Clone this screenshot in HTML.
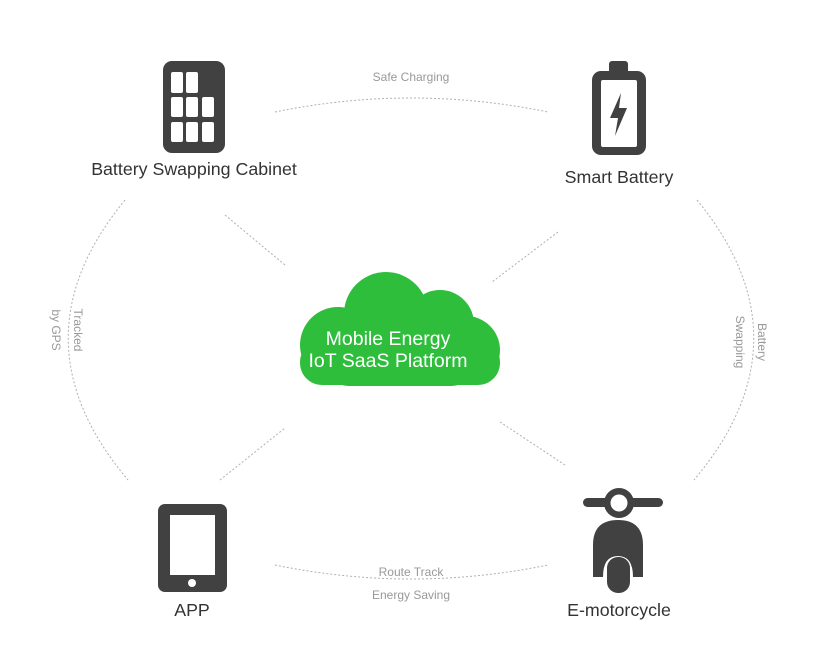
<!DOCTYPE html>
<html><head><meta charset="utf-8"><style>
html,body{margin:0;padding:0;background:#fff;}
svg{display:block;font-family:"Liberation Sans",Arial,sans-serif;}
</style></head><body>
<svg width="826" height="665" viewBox="0 0 826 665" xmlns="http://www.w3.org/2000/svg">
<g fill="none" stroke="#b0b0b0" stroke-width="1" stroke-dasharray="2,2">
  <path d="M275 112 Q411 84 548 112"/>
  <path d="M275 565 Q411 593 548 565"/>
  <path d="M125 200 Q10 340 128 480"/>
  <path d="M697 200 Q812 340 694 480"/>
  <path d="M225 215 L285 265"/>
  <path d="M558 232 L492 282"/>
  <path d="M220 480 L285 428"/>
  <path d="M500 422 L565 465"/>
</g>
<g fill="#999" font-size="12" text-anchor="middle">
  <text x="411" y="81">Safe Charging</text>
  <text x="411" y="576">Route Track</text>
  <text x="411" y="599">Energy Saving</text>
  <g transform="translate(68,330) rotate(90)"><text x="0" y="-6">Tracked</text><text x="0" y="16">by GPS</text></g>
  <g transform="translate(752,342) rotate(90)"><text x="0" y="-6">Battery</text><text x="0" y="16">Swapping</text></g>
</g>
<!-- cloud -->
<g fill="#2fbd3c">
  <circle cx="386" cy="314" r="42"/>
  <circle cx="440" cy="324" r="34"/>
  <circle cx="338" cy="345" r="38"/>
  <circle cx="466" cy="350" r="34"/>
  <rect x="320" y="320" width="160" height="66" rx="30"/>
  <rect x="300" y="340" width="200" height="45" rx="22"/>
</g>
<g fill="#fff" font-size="19.5" text-anchor="middle">
  <text x="388" y="345">Mobile Energy</text>
  <text x="388" y="367">IoT SaaS Platform</text>
</g>
<!-- cabinet -->
<rect x="163" y="61" width="62" height="92" rx="9" fill="#414141"/>
<g fill="#fff">
  <rect x="171" y="72" width="12" height="21" rx="2"/><rect x="186" y="72" width="12" height="21" rx="2"/>
  <rect x="171" y="97" width="12" height="20" rx="2"/><rect x="186" y="97" width="12" height="20" rx="2"/><rect x="202" y="97" width="12" height="20" rx="2"/>
  <rect x="171" y="122" width="12" height="20" rx="2"/><rect x="186" y="122" width="12" height="20" rx="2"/><rect x="202" y="122" width="12" height="20" rx="2"/>
</g>
<!-- battery -->
<rect x="609" y="61" width="19" height="14" rx="3" fill="#414141"/>
<rect x="592" y="71" width="54" height="84" rx="9" fill="#414141"/>
<rect x="601" y="80" width="36" height="67" rx="2" fill="#fff"/>
<path d="M621 93 L610 118 L618 118 L615 136 L627 108 L619 108 Z" fill="#414141"/>
<!-- tablet -->
<rect x="158" y="504" width="69" height="88" rx="7" fill="#414141"/>
<rect x="170" y="515" width="45" height="60" fill="#fff"/>
<circle cx="192" cy="583" r="4" fill="#fff"/>
<!-- scooter -->
<rect x="583" y="498" width="80" height="9" rx="4.5" fill="#414141"/>
<circle cx="619" cy="503" r="15" fill="#414141"/>
<circle cx="619" cy="503" r="8.5" fill="#fff"/>
<path d="M593 577 L593 545 Q593 520 618 520 Q643 520 643 545 L643 577 L633 577 Q633 556 618 556 Q603 556 603 577 Z" fill="#414141"/>
<rect x="607" y="557" width="23" height="36" rx="11" fill="#414141"/>
<!-- labels -->
<g fill="#333" font-size="17.8" text-anchor="middle">
  <text x="194" y="175">Battery Swapping Cabinet</text>
  <text x="619" y="183">Smart Battery</text>
  <text x="192" y="616">APP</text>
  <text x="619" y="616">E-motorcycle</text>
</g>
</svg>
</body></html>
